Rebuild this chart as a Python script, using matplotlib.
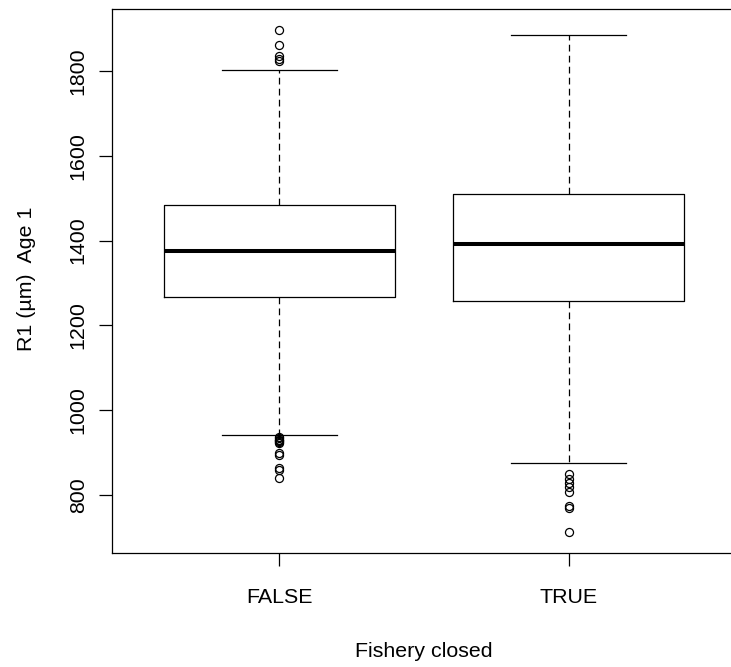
import matplotlib.pyplot as plt

# box statistics (R-style boxplot)
groups = ["FALSE", "TRUE"]
medians = [1376, 1391]
q1 = [1266, 1257]
q3 = [1483, 1509]
whisker_low = [941, 875]
whisker_high = [1803, 1886]
outliers_false = [1898, 1862, 1835, 1829, 1825,
                  936, 933, 930, 928, 926, 924, 922, 898, 894, 864, 859, 839]
outliers_true = [850, 836, 827, 818, 807, 773, 768, 712]
yticks = [800, 1000, 1200, 1400, 1600, 1800]

plt.rcParams["font.family"] = ["Liberation Sans", "DejaVu Sans"]
W, H = 731, 667
fs = 15.4

fig = plt.figure(figsize=(W / 100, H / 100), dpi=100)
# right edge of the plot box sits outside the picture, like the reference
ax = fig.add_axes([111.7 / W, (H - 552.7) / H, 624.7 / W, 543.7 / H])

fliers = [outliers_false, outliers_true]
stats = []
for i, name in enumerate(groups):
    stats.append(dict(label=name, med=medians[i], q1=q1[i], q3=q3[i],
                      whislo=whisker_low[i], whishi=whisker_high[i],
                      fliers=fliers[i]))

lw = 0.9
ax.bxp(stats, positions=[1, 2], widths=0.8, capwidths=0.4, showfliers=True,
       boxprops=dict(color="black", linewidth=lw),
       medianprops=dict(color="black", linewidth=2.9, solid_capstyle="butt"),
       whiskerprops=dict(color="black", linewidth=lw, linestyle=(0, (5.4, 3.4))),
       capprops=dict(color="black", linewidth=lw),
       flierprops=dict(marker="o", markerfacecolor="none", markeredgecolor="black",
                       markersize=5.8, markeredgewidth=0.9, linestyle="none"))

ax.set_xlim(0.42, 2.58)
ax.set_ylim(663, 1947)
ax.set_yticks(yticks)
ax.set_yticklabels([str(t) for t in yticks])

for s in ax.spines.values():
    s.set_linewidth(lw)

ax.tick_params(direction="out", length=9.36, width=lw, labelsize=fs, colors="black")
ax.tick_params(axis="x", pad=16)
ax.tick_params(axis="y", pad=7.8, labelrotation=90)
for lbl in ax.get_yticklabels():
    lbl.set_va("center")

fig.text(32.3 / W, 1 - 279 / H, "R1 (µm)  Age 1", rotation=90, ha="center",
         va="baseline", rotation_mode="anchor", fontsize=fs)
fig.text(424.2 / W, (H - 657.3) / H, "Fishery closed", ha="center",
         va="baseline", fontsize=fs)

fig.savefig("out.png", dpi=100)
plt.close(fig)
